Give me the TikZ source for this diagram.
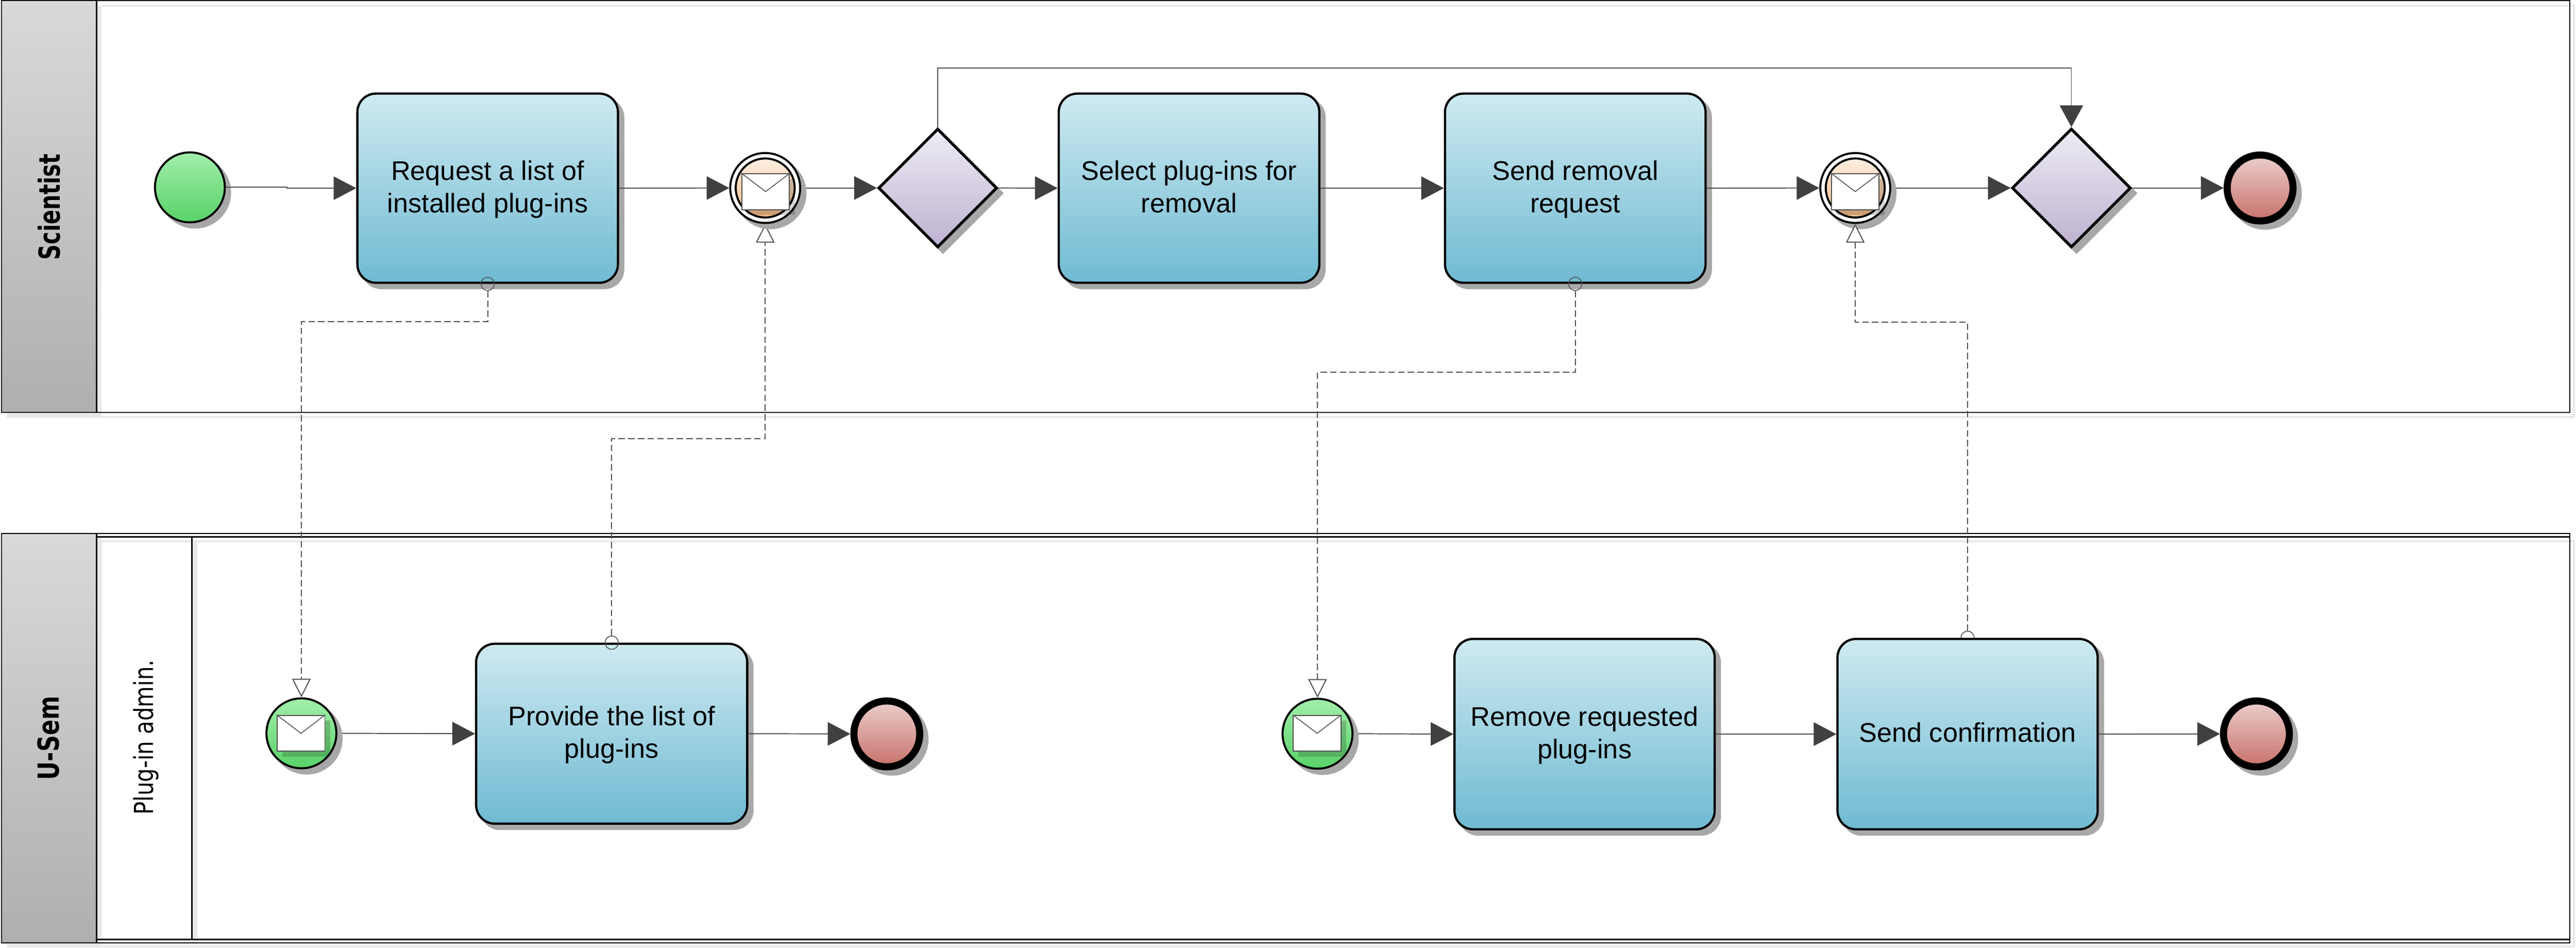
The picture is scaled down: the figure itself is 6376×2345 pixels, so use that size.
\documentclass[tikz,border=0pt]{standalone}
\usepackage{fontspec}
\setmainfont{Liberation Sans}
\newfontfamily\lanefont{DejaVu Sans}
\usetikzlibrary{arrows.meta,shapes.geometric,shadows}
\pgfdeclarelayer{lanes}
\pgfdeclarelayer{under}
\pgfsetlayers{lanes,under,main}
\definecolor{shadowgray}{HTML}{A8A8A8}
\definecolor{ghost}{HTML}{E9E9E9}
\definecolor{linegray}{HTML}{505050}
\definecolor{headgray}{HTML}{404040}
\definecolor{taskT}{HTML}{CFEAF1}
\definecolor{taskB}{HTML}{6FBAD2}
\definecolor{greenT}{HTML}{A2EEAA}
\definecolor{greenB}{HTML}{58D268}
\definecolor{redT}{HTML}{EBCFCC}
\definecolor{redB}{HTML}{C8706A}
\definecolor{peachT}{HTML}{FDEEE2}
\definecolor{peachB}{HTML}{F8BD85}
\definecolor{lilacT}{HTML}{EEECF4}
\definecolor{lilacB}{HTML}{BEB1D1}
\definecolor{headT}{HTML}{D9D9D9}
\definecolor{headB}{HTML}{AFAFAF}
\newcommand{\tstrut}{\rule[-20pt]{0pt}{80pt}}
\tikzset{
  x=1pt,y=-1pt,
  castshadow/.style={general shadow={fill=shadowgray,draw=shadowgray,shadow xshift=13pt,shadow yshift=-13pt}},
  taskbox/.style={draw=black,line width=5.5pt,rectangle,rounded corners=46pt,top color=taskT,bottom color=taskB,
    castshadow,align=center,font=\fontsize{66.7}{80}\selectfont,inner sep=0pt},
  startev/.style={circle,draw=black,line width=5pt,minimum size=173pt,inner sep=0pt,top color=greenT,bottom color=greenB,castshadow},
  endev/.style={circle,draw=black,line width=17.5pt,minimum size=163pt,inner sep=0pt,top color=redT,bottom color=redB,castshadow},
  catchouter/.style={circle,draw=black,line width=5pt,minimum size=173pt,inner sep=0pt,fill=white,castshadow},
  catchinner/.style={circle,draw=black,line width=5pt,minimum size=146pt,inner sep=0pt,top color=peachT,bottom color=peachB},
  envelope/.style={rectangle,draw=linegray,line width=2.5pt,fill=white,minimum width=118pt,minimum height=89pt,inner sep=0pt,
    general shadow={fill=black,opacity=.18,shadow xshift=13pt,shadow yshift=-13pt}},
  flap/.style={draw=linegray,line width=2pt},
  gateway/.style={diamond,aspect=1,draw=black,line width=7pt,minimum width=294pt,minimum height=294pt,inner sep=0pt,
    top color=lilacT,bottom color=lilacB,castshadow},
  port/.style={circle,draw=linegray,line width=2pt,minimum size=33pt,inner sep=0pt},
  seqflow/.style={draw=linegray,line width=2.5pt,-{Triangle[length=56pt,width=58pt,color=headgray,fill=headgray]}},
  msgflow/.style={draw=linegray,line width=2.5pt,dash pattern=on 16pt off 8pt,
    -{Triangle[open,length=46pt,width=46pt,fill=white,color=linegray]}},
  laneline/.style={draw=black,line width=2.8pt},
  headfill/.style={top color=headT,bottom color=headB,draw=black,line width=2.8pt},
  boldlabel/.style={font=\lanefont\bfseries\fontsize{72}{80}\selectfont,rotate=90,anchor=base,transform shape,inner sep=0pt},
}
\begin{document}
\begin{tikzpicture}
\useasboundingbox (0,0) rectangle (6376,2345);

\begin{pgfonlayer}{lanes}
  \fill[white] (0,0) rectangle (6376,2345);
  % light ghost shadows of the pools
  \fill[ghost] (17,14) rectangle (251,1034);
  \draw[ghost,line width=5pt] (251,14) -- (6371,14) -- (6371,1032) -- (251,1032);
  \fill[ghost] (17,1333) rectangle (252,2344);
  \fill[ghost] (476,1339) rectangle (489,2336);
  \draw[ghost,line width=5pt] (252,1339) -- (6371,1339) -- (6371,2341) -- (252,2341);
  % upper pool
  \draw[laneline] (4,1) rectangle (6361,1020);
  \draw[headfill] (4,1) rectangle (239,1020);
  % lower pool
  \fill[white] (252,1341) rectangle (476,2322);
  \draw[laneline] (4,1320) rectangle (6361,2332);
  \draw[laneline] (239,1328) rectangle (6361,2324);
  \draw[laneline] (239,1328) rectangle (475,2324);
  \draw[headfill] (4,1320) rectangle (239,2332);
\end{pgfonlayer}

\node[boldlabel,xscale=.735] (lblA) at (148,512) {Scientist};
\node[boldlabel,xscale=.785] (lblB) at (146,1826) {U-Sem};
\node[font=\lanefont\fontsize{65}{75}\selectfont,rotate=90,anchor=base,transform shape,inner sep=0pt,xscale=.82] (lblC) at (379,1824) {Plug-in admin.};

% upper lane
\node[startev] (s1) at (470,463.5) {};
\node[taskbox,minimum width=645pt,minimum height=468pt] (t1) at (1207,465.5) {\tstrut Request a list of\\\tstrut installed plug-ins};
\node[catchouter] (e1) at (1894,465) {};
\node[catchinner] (e1i) at (e1) {};
\node[envelope] (m1) at (1895,474) {};
\node[gateway] (g1) at (2321,465) {};
\node[taskbox,minimum width=645pt,minimum height=468pt] (t2) at (2943,465.5) {\tstrut Select plug-ins for\\\tstrut removal};
\node[taskbox,minimum width=645pt,minimum height=468pt] (t3) at (3899,465.5) {\tstrut Send removal\\\tstrut request};
\node[catchouter] (e2) at (4592,465) {};
\node[catchinner] (e2i) at (e2) {};
\node[envelope] (m2) at (4592,474) {};
\node[gateway] (g2) at (5127,465) {};
\node[endev] (x1) at (5594,465) {};

% lower lane
\node[startev] (e3a) at (746,1814) {};
\node[envelope] (m3) at (745,1814) {};
\node[taskbox,minimum width=671pt,minimum height=445pt] (t4) at (1514,1815) {\tstrut Provide the list of\\\tstrut plug-ins};
\node[endev] (x2) at (2195,1815.5) {};
\node[startev] (e3) at (3261,1815) {};
\node[envelope] (m4) at (3260,1814) {};
\node[taskbox,minimum width=644pt,minimum height=471pt] (t5) at (3922,1816) {\tstrut Remove requested\\\tstrut plug-ins};
\node[taskbox,minimum width=644pt,minimum height=471pt] (t6) at (4870,1816) {\tstrut Send confirmation};
\node[endev] (x3) at (5585,1815.5) {};

% envelope flaps
\draw[flap] (m1.north west) -- (m1.center) -- (m1.north east);
\draw[flap] (m2.north west) -- (m2.center) -- (m2.north east);
\draw[flap] (m3.north west) -- (m3.center) -- (m3.north east);
\draw[flap] (m4.north west) -- (m4.center) -- (m4.north east);

% connection circles of message flows
\node[port] (p1) at (t1.south) {};
\node[port] (p3) at (t3.south) {};
\node[port] (p4) at (t4.north) {};
\begin{pgfonlayer}{under}
  \node[port,fill=white] (p6) at (t6.north) {};
\end{pgfonlayer}

% sequence flows
\coordinate (jog) at (710,465.5);
\draw[seqflow] (s1.east) -- (s1.east -| jog) -- (jog) -- (t1.west);
\begin{pgfonlayer}{under}
  \draw[seqflow] (e1.east) -- (g1.west);
  \draw[seqflow] (e2.east) -- (g2.west);
  \draw[seqflow] (e3a.east) -- (t4.west);
  \draw[seqflow] (e3.east) -- (t5.west);
\end{pgfonlayer}
\draw[seqflow] (t1.east) -- (e1.west);
\draw[seqflow] (g1.east) -- (t2.west);
\draw[seqflow] (t2.east) -- (t3.west);
\draw[seqflow] (t3.east) -- (e2.west);
\draw[seqflow] (g2.east) -- (x1.west);
\draw[seqflow] (t4.east) -- (x2.west);
\draw[seqflow] (t5.east) -- (t6.west);
\draw[seqflow] (t6.east) -- (x3.west);
\coordinate (bendtop) at (5127,168);
\draw[draw=linegray,line width=2pt,-{Triangle[length=54pt,width=58pt,color=headgray,fill=headgray]}] (g1.north) |- (bendtop) -- (g2.north);

% message flows
\coordinate (b1) at (746,796);
\coordinate (b2) at (1894,1085);
\coordinate (b3) at (3261,921);
\coordinate (b4) at (4592,797);
\begin{pgfonlayer}{under}
  \draw[msgflow] (p4.north) |- (b2) -- (e1.south);
\end{pgfonlayer}
\draw[msgflow] (p1.south) |- (b1) -- (e3a.north);
\draw[msgflow] (p3.south) |- (b3) -- (e3.north);
\draw[msgflow] (p6.north) |- (b4) -- (e2.south);
\end{tikzpicture}
\end{document}
